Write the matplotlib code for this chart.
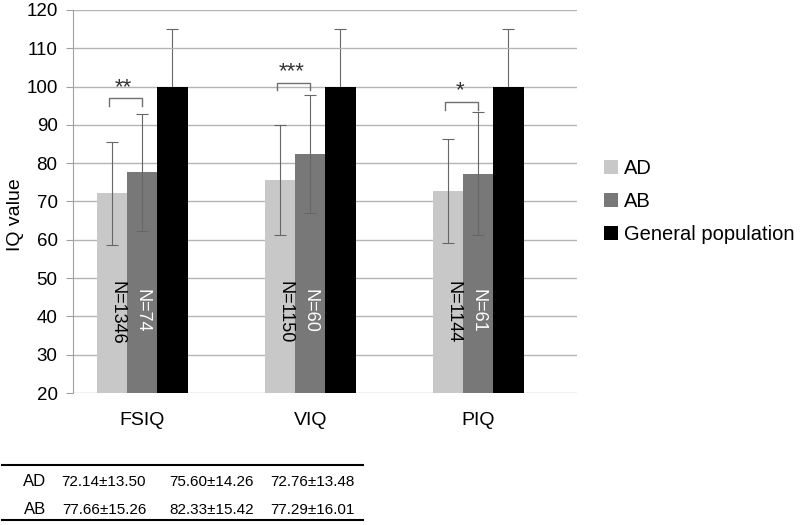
import numpy as np
import matplotlib.pyplot as plt
from matplotlib.lines import Line2D

plt.rcParams['font.family'] = ['Liberation Sans', 'DejaVu Sans']

categorias = ["FSIQ", "VIQ", "PIQ"]
grupos = ["AD", "AB", "General population"]
media_AD = [72.14, 75.60, 72.76]
dp_AD = [13.50, 14.26, 13.48]
media_AB = [77.66, 82.33, 77.29]
dp_AB = [15.26, 15.42, 16.01]
media_pop = [100, 100, 100]
dp_pop = [15, 15, 15]
n_AD = [1346, 1150, 1144]
n_AB = [74, 60, 61]
estrelas = ["**", "***", "*"]
altura_colchete = [97.0, 101.0, 96.0]

cores = ["#c8c8c8", "#787878", "#000000"]
largura = 0.18
x = np.arange(len(categorias))

fig = plt.figure(figsize=(8, 5.25), dpi=100)
ax = fig.add_axes([0.091, 0.2514, 0.630, 0.7296])

medias = [media_AD, media_AB, media_pop]
dps = [dp_AD, dp_AB, dp_pop]
for k in range(3):
    ax.bar(x + (k - 1)*largura, medias[k], largura, color=cores[k], label=grupos[k], zorder=2)
    # barra preta esconde a parte de baixo do erro
    z = 1.5 if k == 2 else 3
    ax.errorbar(x + (k - 1)*largura, medias[k], yerr=dps[k], fmt='none', ecolor="#666666",
                elinewidth=0.8, capsize=4.5, capthick=0.8, zorder=z)

# N dentro das barras
for i in range(3):
    ax.text(x[i] - largura + 0.03, 41, f"N={n_AD[i]}", rotation=270, ha='center', va='center',
            fontsize=13, color='black', zorder=4)
    ax.text(x[i] + 0.0, 41.5, f"N={n_AB[i]}", rotation=270, ha='center', va='center',
            fontsize=13, color='white', zorder=4)

# colchetes de significancia
for i in range(3):
    x0 = x[i] - largura - 0.02
    x1 = x[i]
    h = altura_colchete[i]
    ax.plot([x0, x0, x1, x1], [h - 2, h, h, h - 2], color="#707070", lw=1, zorder=4)
    ax.text((x0 + x1)/2 - 0.01, h + 0.1, estrelas[i], ha='center', va='bottom', fontsize=16,
            color="#333333", zorder=4)

ax.set_ylim(20, 120)
ax.set_yticks(np.arange(20, 121, 10))
ax.set_xlim(-0.413, 2.587)
ax.set_xticks(x)
ax.set_xticklabels(categorias, fontsize=14)
ax.tick_params(axis='x', length=0, pad=14)
ax.tick_params(axis='y', labelsize=13.5, length=5, color="#a0a0a0", pad=6)
ax.set_ylabel("IQ value", fontsize=14)
ax.yaxis.set_label_coords(-0.097, 0.465)
ax.grid(axis='y', color="#b4b4b4", lw=1, zorder=0)
for s in ["top", "right", "bottom"]:
    ax.spines[s].set_visible(False)
ax.spines["left"].set_color("#a0a0a0")

ax.legend(loc='center left', bbox_to_anchor=(0.755, 0.616), bbox_transform=fig.transFigure,
          frameon=False, fontsize=14.5, handlelength=0.7, handleheight=0.7, handletextpad=0.3,
          labelspacing=0.7, borderpad=0, borderaxespad=0)

# tabela embaixo
fig.add_artist(Line2D([2/800, 363/800], [1 - 465/525, 1 - 465/525], color='black', lw=1.5))
fig.add_artist(Line2D([2/800, 363/800], [1 - 520/525, 1 - 520/525], color='black', lw=1.5))
col_x = [104, 212, 312]
linhas = [("AD", media_AD, dp_AD, 482), ("AB", media_AB, dp_AB, 510)]
for nome, med, dp, yy in linhas:
    fig.text(35/800, 1 - yy/525, nome, ha='center', va='center', fontsize=12)
    for j in range(3):
        fig.text(col_x[j]/800, 1 - yy/525, f"{med[j]:.2f}±{dp[j]:.2f}", ha='center', va='center',
                 fontsize=11)

plt.savefig("out.png", dpi=100)
